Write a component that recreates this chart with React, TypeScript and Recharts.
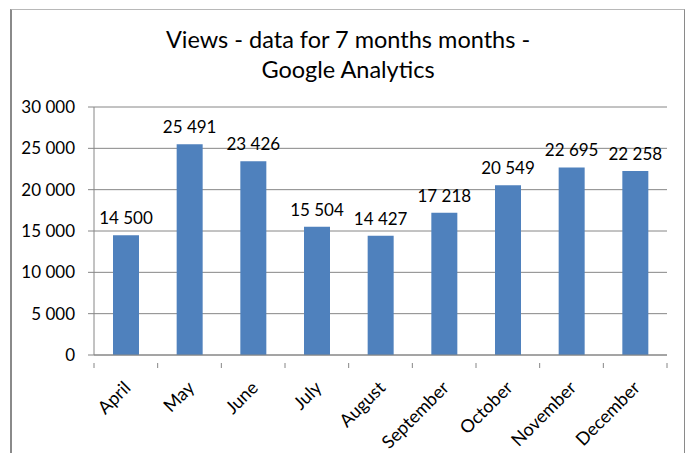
import { BarChart, Bar, XAxis, YAxis, CartesianGrid, LabelList } from 'recharts'

const months = ['April', 'May', 'June', 'July', 'August', 'September', 'October', 'November', 'December']
const views = [14500, 25491, 23426, 15504, 14427, 17218, 20549, 22695, 22258]
const yTicks = [0, 5000, 10000, 15000, 20000, 25000, 30000]
const titleLines = ['Views - data for 7 months months -', 'Google Analytics']

const data = months.map((month, i) => ({ month, views: views[i] }))

const W = 686
const H = 453
const margin = { top: 107, right: 19, bottom: 0, left: 0 }
const yAxisWidth = 94
const plotWidth = W - margin.left - margin.right - yAxisWidth
const step = plotWidth / months.length

const font = 'Lato, "Liberation Sans", sans-serif'
const axisColor = '#868686'

const fmt = (v: any) => String(v).replace(/\B(?=(\d{3})+(?!\d))/g, ' ')

function MonthTick(props: any) {
  const { x, y, payload, index } = props
  const last = index === months.length - 1
  const tx = x + 1
  const ty = y + 21
  return (
    <g>
      <line x1={x - step / 2} x2={x - step / 2} y1={y} y2={y + 5} stroke={axisColor} />
      {last && <line x1={x + step / 2} x2={x + step / 2} y1={y} y2={y + 5} stroke={axisColor} />}
      <text
        x={tx}
        y={ty}
        textAnchor="end"
        dominantBaseline="central"
        transform={`rotate(-45, ${tx}, ${ty})`}
        fontSize={18}
        fill="#000"
        fontFamily={font}
      >
        {payload.value}
      </text>
    </g>
  )
}

function ValueLabel(props: any) {
  const { x, y, width, value } = props
  return (
    <text x={x + width / 2} y={y - 11} textAnchor="middle" fontSize={17} fill="#000" fontFamily={font}>
      {fmt(value)}
    </text>
  )
}

export default function App() {
  return (
    <div style={{ position: 'relative', width: W, height: H, overflow: 'hidden', background: '#fff' }}>
      <style>{'body{margin:0}'}</style>
      <div
        style={{
          position: 'absolute',
          left: 10,
          top: 9,
          width: 672,
          height: 460,
          borderTop: '1px solid #b8b8b8',
          borderLeft: '2px solid #8a8a8a',
          borderRight: '1px solid #8a8a8a',
        }}
      />
      <div
        style={{
          position: 'absolute',
          left: 0,
          top: 24,
          width: 696,
          textAlign: 'center',
          fontFamily: font,
          fontSize: 23.5,
          lineHeight: '30px',
          color: '#000',
        }}
      >
        {titleLines.map((t) => (
          <div key={t}>{t}</div>
        ))}
      </div>
      <div style={{ position: 'absolute', left: 0, top: 0 }}>
        <BarChart width={W} height={H} data={data} margin={margin}>
          <CartesianGrid vertical={false} stroke={axisColor} strokeWidth={1} />
          <XAxis
            dataKey="month"
            stroke={axisColor}
            tickLine={false}
            height={H - 355}
            interval={0}
            tick={<MonthTick />}
          />
          <YAxis
            width={yAxisWidth}
            domain={[0, 30000]}
            ticks={yTicks}
            tickFormatter={fmt}
            stroke={axisColor}
            tickSize={6}
            tickMargin={13}
            tick={{ fill: '#000', fontSize: 17, fontFamily: font }}
          />
          <Bar dataKey="views" fill="#4F81BD" barSize={26} isAnimationActive={false}>
            <LabelList dataKey="views" content={<ValueLabel />} />
          </Bar>
        </BarChart>
      </div>
    </div>
  )
}
